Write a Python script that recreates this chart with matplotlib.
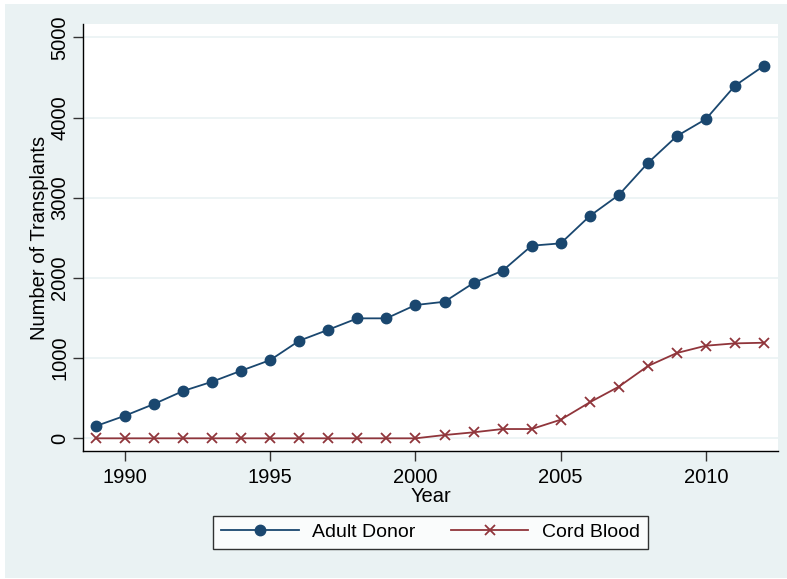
import numpy as np
from matplotlib import pyplot as plt
from matplotlib.patches import Rectangle

years = list(range(1989, 2013))
adult_donor = [153, 282, 428, 590, 706, 843, 976, 1217, 1354, 1496, 1496, 1662,
               1703, 1937, 2090, 2402, 2431, 2772, 3034, 3433, 3769, 3981, 4397, 4646]
cord_blood = [0, 0, 0, 0, 0, 0, 0, 0, 0, 0, 0, 0,
              41, 75, 116, 116, 232, 449, 644, 901, 1064, 1155, 1184, 1192]
x_ticks = [1990, 1995, 2000, 2005, 2010]
y_ticks = [0, 1000, 2000, 3000, 4000, 5000]

W, H = 787, 579
bg = '#eaf2f3'
navy = '#1a476f'
maroon = '#90353b'

plt.rcParams['font.family'] = ['Liberation Sans', 'DejaVu Sans']

fig = plt.figure(figsize=(W / 100, H / 100), dpi=100)
fig.patch.set_facecolor('white')
fig.patches.append(Rectangle((5 / W, 1 - 578 / H), 782 / W, 574 / H,
                             transform=fig.transFigure, facecolor=bg,
                             edgecolor='none', zorder=-10))

ax = fig.add_axes([83.3 / W, 1 - 451 / H, (777.7 - 83.3) / W, (451 - 24) / H])
ax.set_facecolor('white')

ax.plot(years, adult_donor, color=navy, lw=1.3, marker='o', markersize=7.5,
        label='Adult Donor')
ax.plot(years, cord_blood, color=maroon, lw=1.3, marker='x', markersize=6.5,
        markeredgewidth=1.3, label='Cord Blood')

ax.set_xlim(1988.565, 2012.47)
ax.set_ylim(-158, 5166)
ax.set_xticks(x_ticks)
ax.set_yticks(y_ticks)
ax.yaxis.grid(True, color=bg, lw=1.2)
ax.set_axisbelow(True)

for s in ['top', 'right']:
    ax.spines[s].set_visible(False)
for s in ['left', 'bottom']:
    ax.spines[s].set_linewidth(1.0)
    ax.spines[s].set_color('black')

ax.tick_params(axis='both', labelsize=14.5, length=7, width=1, color='#333333')
ax.tick_params(axis='x', pad=5)
ax.tick_params(axis='y', pad=3)
for lbl in ax.get_yticklabels():
    lbl.set_rotation(90)
    lbl.set_va('center')

ax.set_xlabel('Year', fontsize=14.5, labelpad=0)
ax.set_ylabel('Number of Transplants', fontsize=14.5, labelpad=1)

leg = ax.legend(loc='upper center', bbox_to_anchor=(0.5, -0.152), ncol=2,
                fontsize=14, frameon=True, fancybox=False, handlelength=4,
                columnspacing=1.8, handletextpad=0.7, borderpad=0.4,
                borderaxespad=0)
leg.get_frame().set_edgecolor('black')
leg.get_frame().set_linewidth(1.0)

fig.savefig('out.png', dpi=100, facecolor=fig.get_facecolor())
